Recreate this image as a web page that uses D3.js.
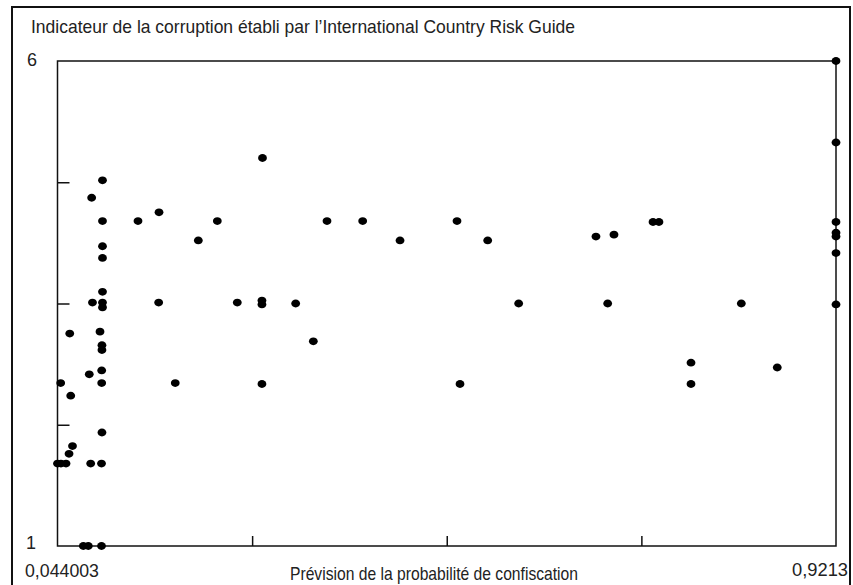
<!DOCTYPE html>
<html>
<head>
<meta charset="utf-8">
<script src="https://cdn.jsdelivr.net/npm/d3@7/dist/d3.min.js"></script>
<style>
  html, body { margin: 0; padding: 0; background: #fff; }
  svg { display: block; }
  text { font-family: "Liberation Sans", Arial, sans-serif; fill: #222; }
</style>
</head>
<body>
<svg id="chart" width="853" height="585"></svg>
<script>
// Predicted probability of confiscation (x) and ICRG corruption index (y), one entry per country
const prevision = [
  0.0440, 0.0479, 0.0536, 0.0476, 0.0578, 0.0589, 0.0570, 0.0609,
  0.0731, 0.0787, 0.0936, 0.0814, 0.0936, 0.0941, 0.0798, 0.0938,
  0.0938, 0.0941, 0.0941, 0.0919, 0.0825, 0.0947, 0.0947, 0.0947,
  0.0947, 0.0947, 0.0834, 0.0947, 0.0947, 0.1347, 0.1584, 0.1580,
  0.1767, 0.2027, 0.2241, 0.2466, 0.2750, 0.2744, 0.2744, 0.2744,
  0.3124, 0.3323, 0.3477, 0.3879, 0.4300, 0.4942, 0.4976, 0.5288,
  0.5637, 0.6508, 0.6711, 0.6640, 0.7151, 0.7218, 0.7579, 0.7579,
  0.8146, 0.8551, 0.9213, 0.9213, 0.9213, 0.9213, 0.9213, 0.9213,
  0.9213
];
const corruption = [
  1.85, 1.85, 1.85, 2.68, 3.19, 2.55, 1.95, 2.03,
  1.00, 1.00, 1.00, 1.85, 1.85, 2.17, 2.77, 2.68,
  2.81, 3.07, 3.02, 3.21, 4.59, 4.77, 4.35, 4.09,
  3.97, 3.62, 3.51, 3.51, 3.46, 4.35, 4.44, 3.51,
  2.68, 4.15, 4.35, 3.51, 5.00, 3.53, 3.49, 2.67,
  3.50, 3.11, 4.35, 4.35, 4.15, 4.35, 2.67, 4.15,
  3.50, 4.19, 4.21, 3.50, 4.34, 4.34, 2.89, 2.67,
  3.50, 2.84, 6.00, 5.16, 4.34, 4.23, 4.19, 4.02,
  3.49
];

// Axis bounds and end labels
const xDomain = [0.044003, 0.9213];
const yDomain = [1, 6];
const xEndLabels = ["0,044003", "0,9213"];
const yEndLabels = ["1", "6"];
const titleText = "Indicateur de la corruption établi par l\u2019International Country Risk Guide";
const xTitleText = "Prévision de la probabilité de confiscation";

const svg = d3.select("#chart");
const plot = { left: 57.5, right: 836, top: 61, bottom: 546 };

const x = d3.scaleLinear().domain(xDomain).range([plot.left, plot.right]);
const y = d3.scaleLinear().domain(yDomain).range([plot.bottom, plot.top]);

// Outer frame
svg.append("rect")
  .attr("x", 12).attr("y", 7)
  .attr("width", 838).attr("height", 600)
  .attr("fill", "none").attr("stroke", "#111").attr("stroke-width", 2);

// Interior quarter ticks, pointing into the plot
const quarter = (d) => [0.25, 0.5, 0.75].map(t => d[0] + t * (d[1] - d[0]));

const xAxis = svg.append("g")
  .attr("transform", `translate(0,${plot.bottom})`)
  .call(d3.axisBottom(x).tickValues(quarter(xDomain)).tickSize(-10).tickFormat(""));
xAxis.select(".domain").remove();
xAxis.selectAll("line").attr("stroke", "#111").attr("stroke-width", 1.5);

const yAxis = svg.append("g")
  .attr("transform", `translate(${plot.left},0)`)
  .call(d3.axisLeft(y).tickValues(quarter(yDomain)).tickSize(-12).tickFormat(""));
yAxis.select(".domain").remove();
yAxis.selectAll("line").attr("stroke", "#111").attr("stroke-width", 1.5);

// Plot box
svg.append("rect")
  .attr("x", plot.left).attr("y", plot.top)
  .attr("width", plot.right - plot.left).attr("height", plot.bottom - plot.top)
  .attr("fill", "none").attr("stroke", "#111").attr("stroke-width", 1.5);

// Points
svg.append("g")
  .selectAll("ellipse")
  .data(prevision.map((v, i) => [v, corruption[i]]))
  .join("ellipse")
  .attr("cx", d => x(d[0]))
  .attr("cy", d => y(d[1]))
  .attr("rx", 4.4)
  .attr("ry", 3.9)
  .attr("fill", "#000");

// Texts
svg.append("text")
  .attr("x", 31).attr("y", 33)
  .attr("font-size", 18.5)
  .attr("textLength", 544).attr("lengthAdjust", "spacingAndGlyphs")
  .text(titleText);

svg.append("text")
  .attr("x", 27).attr("y", y(yDomain[1]) + 5)
  .attr("font-size", 18)
  .text(yEndLabels[1]);
svg.append("text")
  .attr("x", 26).attr("y", y(yDomain[0]) + 3)
  .attr("font-size", 18)
  .text(yEndLabels[0]);

svg.append("text")
  .attr("x", 25).attr("y", 577)
  .attr("font-size", 18.5)
  .attr("textLength", 74).attr("lengthAdjust", "spacingAndGlyphs")
  .text(xEndLabels[0]);
svg.append("text")
  .attr("x", 848).attr("y", 576)
  .attr("text-anchor", "end")
  .attr("font-size", 18.5)
  .attr("textLength", 56).attr("lengthAdjust", "spacingAndGlyphs")
  .text(xEndLabels[1]);

svg.append("text")
  .attr("x", 290).attr("y", 580)
  .attr("font-size", 18.5)
  .attr("textLength", 288).attr("lengthAdjust", "spacingAndGlyphs")
  .text(xTitleText);
</script>
</body>
</html>
